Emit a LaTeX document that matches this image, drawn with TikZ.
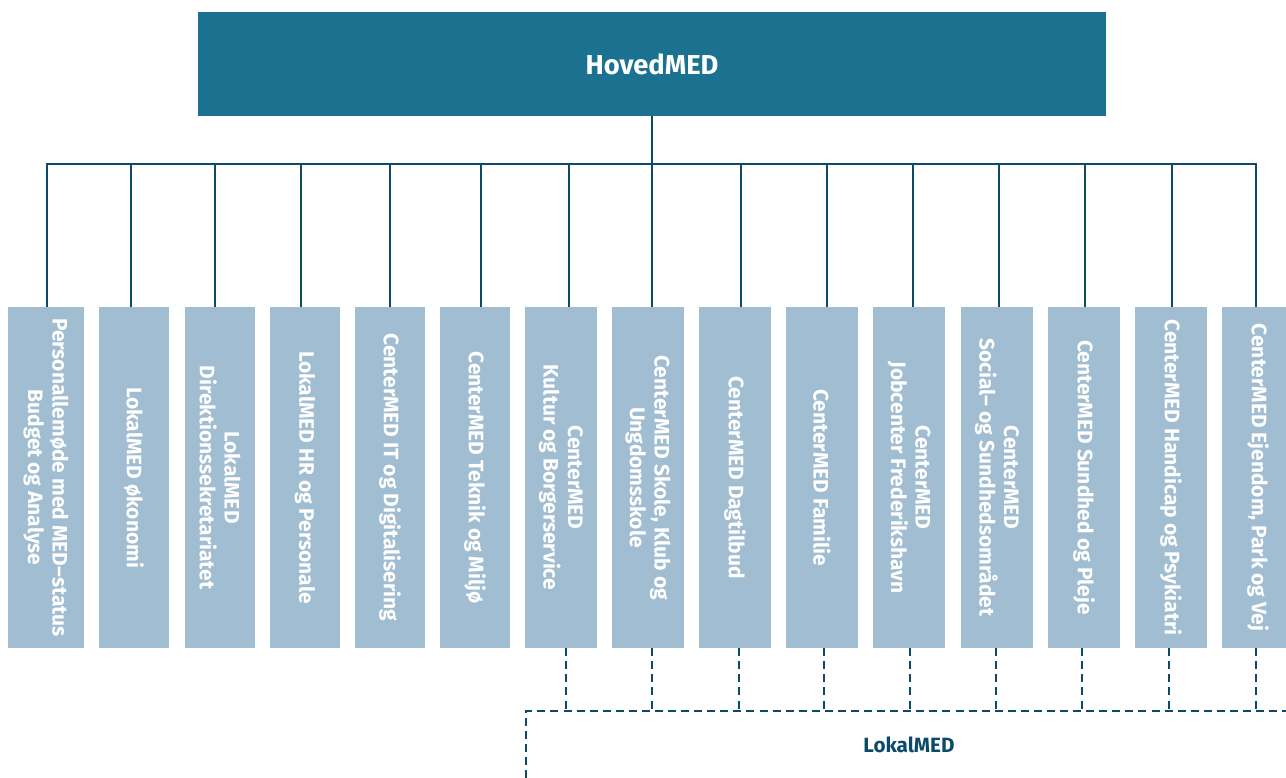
\documentclass[tikz,border=0pt]{standalone}
\usepackage{fontspec}
\setmainfont{Fira Sans}
\definecolor{medblue}{HTML}{1A7190}
\definecolor{medline}{HTML}{0B4A68}
\definecolor{medlight}{HTML}{A0BDD1}
\tikzset{
	unit/.style={fill=medlight, text=white, inner sep=0pt, rotate=-90,
		minimum width=255.75pt, minimum height=54pt, align=center,
		font=\bfseries\fontsize{15.7}{18.5}\selectfont},
	link/.style={medline, line width=1.9pt},
	dlink/.style={medline, line width=1.8pt, dash pattern=on 6pt off 3.8pt},
}
\begin{document}
\begin{tikzpicture}[x=0.75pt, y=-0.75pt]
		\useasboundingbox (0,0) rectangle (1286,778);
		\clip (0,0) rectangle (1286,778);

		\node[fill=medblue, text=white, minimum width=681pt, minimum height=78pt,
			font=\bfseries\fontsize{20.5}{24}\selectfont] (hoved) at (652,64) {HovedMED};

		% enheder
		\node[unit, minimum height=57pt] (b1) at (46,477.5) {Personallemøde med MED--status\\Budget og Analyse};
		\node[unit, minimum height=52.5pt] (b2) at (134,477.5) {LokalMED økonomi};
		\node[unit, minimum height=52.5pt] (b3) at (220,477.5) {LokalMED\\Direktionssekretariatet};
		\node[unit, minimum height=52.5pt] (b4) at (305,477.5) {LokalMED HR og Personale};
		\node[unit, minimum height=52.5pt] (b5) at (390,477.5) {CenterMED IT og Digitalisering};
		\node[unit, minimum height=52.5pt] (b6) at (475,477.5) {CenterMED Teknik og Miljø};
		\node[unit] (b7) at (561,477.5) {CenterMED\\Kultur og Borgerservice};
		\node[unit] (b8) at (648,477.5) {CenterMED Skole, Klub og\\Ungdomsskole};
		\node[unit] (b9) at (735,477.5) {CenterMED Dagtilbud};
		\node[unit] (b10) at (822,477.5) {CenterMED Familie};
		\node[unit] (b11) at (909,477.5) {CenterMED\\Jobcenter Frederikshavn};
		\node[unit] (b12) at (997,477.5) {CenterMED\\Social-- og Sundhedsområdet};
		\node[unit] (b13) at (1084,477.5) {CenterMED Sundhed og Pleje};
		\node[unit] (b14) at (1171,477.5) {CenterMED Handicap og Psykiatri};
		\node[unit] (b15) at (1258,477.5) {CenterMED Ejendom, Park og Vej};

		\node[text=medline, font=\bfseries\fontsize{15.5}{18}\selectfont] (lokal) at (909,745) {LokalMED};

		% forbindelser
		\coordinate (t1) at (47,164);
		\coordinate (t2) at (131,164);
		\coordinate (t3) at (215,164);
		\coordinate (t4) at (301,164);
		\coordinate (t5) at (390,164);
		\coordinate (t6) at (481,164);
		\coordinate (t7) at (569,164);
		\coordinate (t8) at (652,164);
		\coordinate (t9) at (741,164);
		\coordinate (t10) at (827,164);
		\coordinate (t11) at (913,164);
		\coordinate (t12) at (999,164);
		\coordinate (t13) at (1085,164);
		\coordinate (t14) at (1172,164);
		\coordinate (t15) at (1256,164);

		\draw[link] (hoved.south) -- (t8);
		\draw[link] (t1 |- b1.west) -- (t1) -- (t15) -- (t15 |- b15.west);
		\draw[link] (t2) -- (t2 |- b2.west);
		\draw[link] (t3) -- (t3 |- b3.west);
		\draw[link] (t4) -- (t4 |- b4.west);
		\draw[link] (t5) -- (t5 |- b5.west);
		\draw[link] (t6) -- (t6 |- b6.west);
		\draw[link] (t7) -- (t7 |- b7.west);
		\draw[link] (t8) -- (t8 |- b8.west);
		\draw[link] (t9) -- (t9 |- b9.west);
		\draw[link] (t10) -- (t10 |- b10.west);
		\draw[link] (t11) -- (t11 |- b11.west);
		\draw[link] (t12) -- (t12 |- b12.west);
		\draw[link] (t13) -- (t13 |- b13.west);
		\draw[link] (t14) -- (t14 |- b14.west);

		% lokalMED
		\coordinate (d7) at (566,711);
		\coordinate (d8) at (652,711);
		\coordinate (d9) at (739,711);
		\coordinate (d10) at (824,711);
		\coordinate (d11) at (910,711);
		\coordinate (d12) at (996,711);
		\coordinate (d13) at (1082,711);
		\coordinate (d14) at (1169,711);
		\coordinate (d15) at (1256,711);
		\coordinate (lk) at (526,711);
		\coordinate (lkbund) at (526,778);
		\coordinate (lkend) at (1286,711);

		\draw[dlink] (lkbund) -- (lk) -- (lkend);
		\draw[dlink] (d7 |- b7.east) -- (d7);
		\draw[dlink] (d8 |- b8.east) -- (d8);
		\draw[dlink] (d9 |- b9.east) -- (d9);
		\draw[dlink] (d10 |- b10.east) -- (d10);
		\draw[dlink] (d11 |- b11.east) -- (d11);
		\draw[dlink] (d12 |- b12.east) -- (d12);
		\draw[dlink] (d13 |- b13.east) -- (d13);
		\draw[dlink] (d14 |- b14.east) -- (d14);
		\draw[dlink] (d15 |- b15.east) -- (d15);
\end{tikzpicture}
\end{document}
